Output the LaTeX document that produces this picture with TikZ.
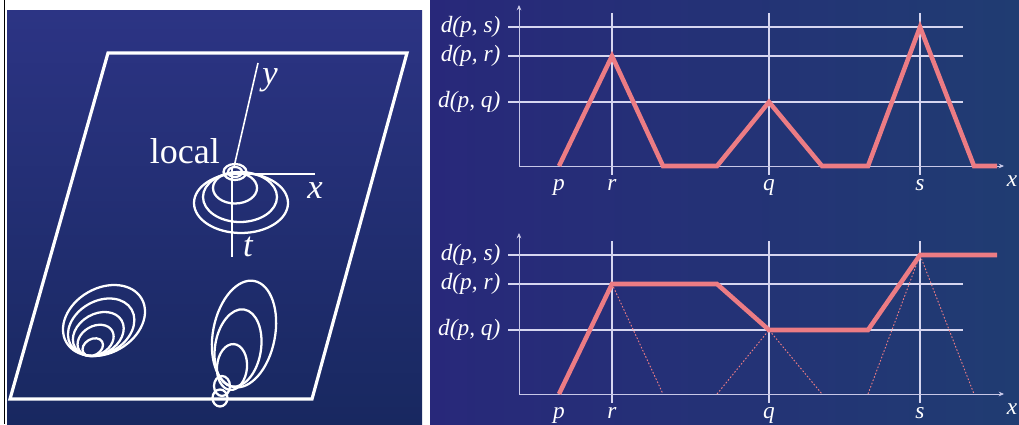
\documentclass[tikz,border=0pt]{standalone}
\usepackage{fontspec}
\setmainfont{Liberation Serif}
\usetikzlibrary{arrows.meta,calc}

\definecolor{panelTop}{RGB}{44,52,132}
\definecolor{panelBot}{RGB}{24,40,96}
\definecolor{chartL}{RGB}{40,40,122}
\definecolor{chartR}{RGB}{32,60,114}
\definecolor{levelline}{RGB}{214,214,240}
\definecolor{axisline}{RGB}{200,200,232}
\definecolor{curve}{RGB}{236,124,132}

\newcommand{\dist}[1]{d(p, #1)}

\tikzset{
  contour/.style={draw=white, line width=1.7pt},
  plane/.style={draw=white, line width=2.4pt, line join=miter},
  axisthree/.style={draw=white, line width=1.2pt},
  level/.style={draw=levelline, line width=1.1pt},
  chartaxis/.style={draw=axisline, line width=0.7pt},
  dcurve/.style={draw=curve, line width=3.4pt, line join=miter},
  cone/.style={draw=curve, line width=0.7pt, dash pattern=on 1.2pt off 1.4pt},
  lbl/.style={text=white, font=\fontsize{17.5}{20}\selectfont\itshape, inner sep=1pt},
  axlbl/.style={text=white, font=\fontsize{26}{28}\selectfont\itshape, inner sep=1pt},
}

\begin{document}
\begin{tikzpicture}[x=0.75pt, y=-0.75pt]
  \useasboundingbox (0,0) rectangle (1019,424);
  \fill[white] (0,0) rectangle (1019,424);

  % left panel: the plane with its contours
  \shade[top color=panelTop, bottom color=panelBot] (7,11) rectangle (422,424);
  \draw[black, line width=0.75pt] (4.5,0) -- (4.5,424);
  \draw[plane] (108,53) -- (407,53) -- (312,399) -- (10,399) -- cycle;

  \coordinate (yend) at (258,63);
  \coordinate (xend) at (315,174);
  \coordinate (tend) at (232,257);
  \draw[axisthree] (234,167) -- (yend);
  \draw[axisthree] (233,174) -- (xend);
  \draw[axisthree] (232,168) -- (tend);
  \node[axlbl] (ylab) at (270,80) {y};
  \node[axlbl] (xlab) at (315,191) {x};
  \node[axlbl] (tlab) at (248,247) {t};
  \node[text=white, font=\fontsize{27}{30}\selectfont, anchor=base east, inner sep=0pt] (loc) at (220,163) {local};

  \foreach \cx/\cy/\rx/\ry in {235/172/11.5/8, 235/172/7/5, 235/188/22/15.5, 240/197/37/25, 241/203/47/30}
    \draw[contour] (\cx,\cy) ellipse ({\rx} and {\ry});

  \coordinate (P1) at (89,356);
  \coordinate (C1) at (104,320.5);
  \foreach \k in {1,0.81,0.62,0.44,0.25}
    \draw[contour, rotate around={30:($(P1)!\k!(C1)$)}] ($(P1)!\k!(C1)$) ellipse ({43.5*\k} and {32.4*\k});

  \foreach \cx/\cy/\rx/\ry/\a in {244/334/31/54/-11, 238/348/23/39/-9, 232/367/15/23/-5, 222/386/8/10/0, 220/398/7.5/8.5/0}
    \draw[contour, rotate around={\a:(\cx,\cy)}] (\cx,\cy) ellipse ({\rx} and {\ry});

  % right panel: the two distance charts
  \shade[left color=chartL, right color=chartR] (430,0) rectangle (1019,424);
  \foreach \dy/\ch in {0/a, 228/b} {
    \begin{scope}[yshift={-0.75pt*\dy}]
      \foreach \lv/\n in {27/s, 56/r, 102/q} {
        \draw[level] (508,\lv) -- (963,\lv);
        \node[lbl, anchor=east] (lab\ch\n) at (502,\lv) {\dist{\n}};
      }
      \foreach \px in {612, 769, 920} \draw[level] (\px,13) -- (\px,175);
      \draw[chartaxis, -{Stealth[length=4pt, width=3.5pt]}] (519,166) -- (519,5);
      \draw[chartaxis, -{Stealth[length=4pt, width=3.5pt]}] (519,166) -- (1004,166);
      \foreach \px/\n in {559/p, 612/r, 769/q, 920/s}
        \node[lbl, anchor=base] (pt\ch\n) at (\px,190) {\n};
      \node[lbl, anchor=base] (x\ch) at (1012,186) {x};
    \end{scope}
  }

  \draw[dcurve] (559,166) -- (612,56) -- (663,166) -- (717,166) -- (769,102) -- (822,166)
    -- (868,166) -- (920,27) -- (974,166) -- (997,166);

  \begin{scope}[yshift=-171pt]
    \draw[cone] (612,56) -- (663,166);
    \draw[cone] (717,166) -- (769,102) -- (822,166);
    \draw[cone] (868,166) -- (920,27) -- (974,166);
    \draw[dcurve] (559,166) -- (612,56) -- (717,56) -- (769,102) -- (868,102) -- (920,27) -- (997,27);
  \end{scope}
\end{tikzpicture}
\end{document}
